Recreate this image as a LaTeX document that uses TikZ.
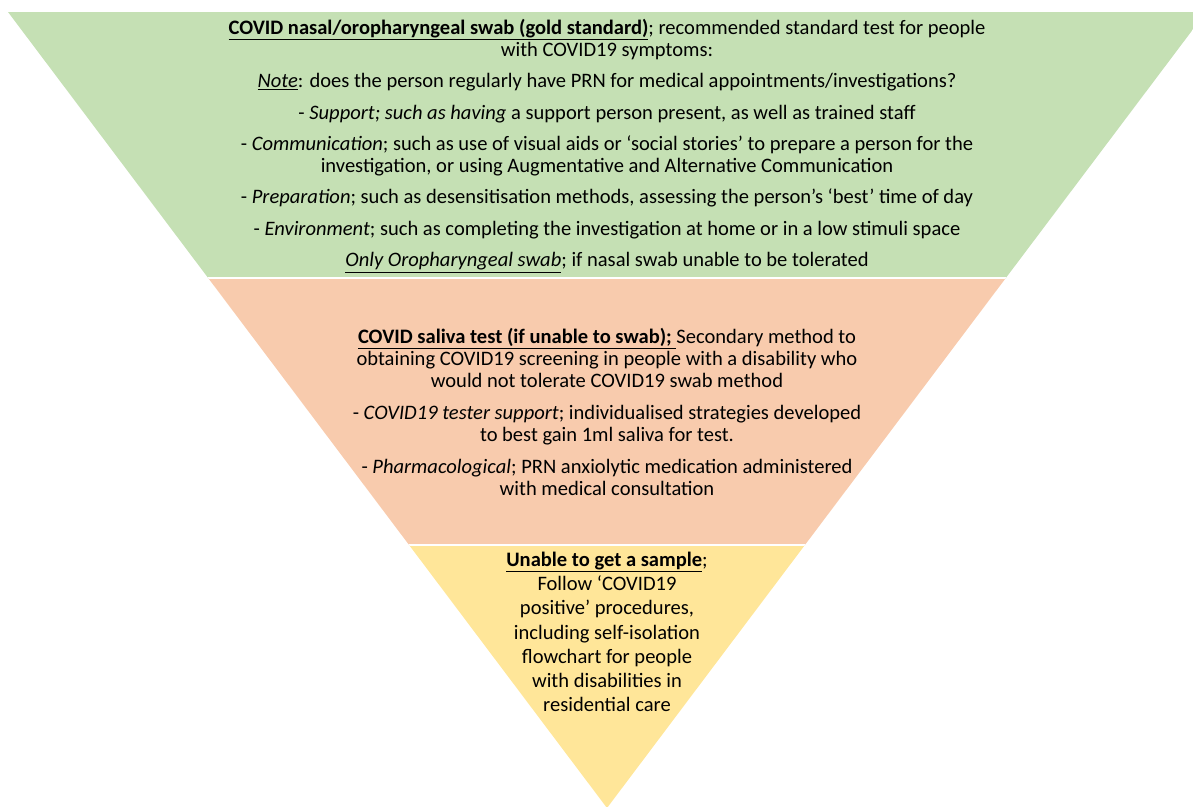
\documentclass[tikz,border=0pt]{standalone}
\usepackage{fontspec}
\setmainfont{Carlito}
\usepackage{tikz}
\definecolor{swabgreen}{HTML}{C5E0B4}
\definecolor{salivaorange}{HTML}{F8CBAD}
\definecolor{sampleyellow}{HTML}{FFE699}
\tikzset{band/.style={align=center, inner sep=0pt, font=\fontsize{15.4pt}{16.5pt}\selectfont},
% band is the text block sitting inside one layer of the triangle
gap/.style={white, line width=1.5pt}   % thin white line between two layers
}

\begin{document}
\begin{tikzpicture}[x=0.75pt,y=-0.75pt]
    \useasboundingbox (0,0) rectangle (1193,807);
    \clip (0,0) rectangle (1193,807);
    \coordinate (tl) at (8,12);
    \coordinate (tr) at (1206,12);
    \coordinate (apex) at (607,808);
    \begin{scope}
      \clip (tl) -- (tr) -- (apex) -- cycle;
      \fill[swabgreen] (0,12) rectangle (1210,277.7);
      \fill[salivaorange] (0,277.7) rectangle (1210,545);
      \fill[sampleyellow] (0,545) rectangle (1210,808);
      \draw[gap] (0,277.7) -- (1210,277.7);
      \draw[gap] (0,545) -- (1210,545);
    \end{scope}
    \node[band] (swab) at (607,146) {\textbf{\underline{COVID nasal/oropharyngeal swab (gold standard)}}; recommended standard test for people\\
      with COVID19 symptoms:\\[7.1pt]
      \underline{\textit{Note}}: does the person regularly have PRN for medical appointments/investigations?\\[7.1pt]
      - \textit{Support; such as having} a support person present, as well as trained staff\\[7.1pt]
      - \textit{Communication}; such as use of visual aids or ‘social stories’ to prepare a person for the\\
      investigation, or using Augmentative and Alternative Communication\\[7.1pt]
      - \textit{Preparation}; such as desensitisation methods, assessing the person’s ‘best’ time of day\\[7.1pt]
      - \textit{Environment}; such as completing the investigation at home or in a low stimuli space\\[7.1pt]
      \underline{\textit{Only Oropharyngeal swab}}; if nasal swab unable to be tolerated};
    \node[band] (saliva) at (607,412) {\textbf{\underline{COVID saliva test (if unable to swab);~}}Secondary method to\\
      obtaining COVID19 screening in people with a disability who\\
      would not tolerate COVID19 swab method\\[7.5pt]
      - \textit{COVID19 tester support}; individualised strategies developed\\
      to best gain 1ml saliva for test.\\[7.5pt]
      - \textit{Pharmacological}; PRN anxiolytic medication administered\\
      with medical consultation};
    \node[band, font=\fontsize{15.4pt}{18.2pt}\selectfont] (nosample) at (607,632) {\textbf{\underline{Unable to get a sample}};\\
      Follow ‘COVID19\\
      positive’ procedures,\\
      including self-isolation\\
      flowchart for people\\
      with disabilities in\\
      residential care};
\end{tikzpicture}
\end{document}
